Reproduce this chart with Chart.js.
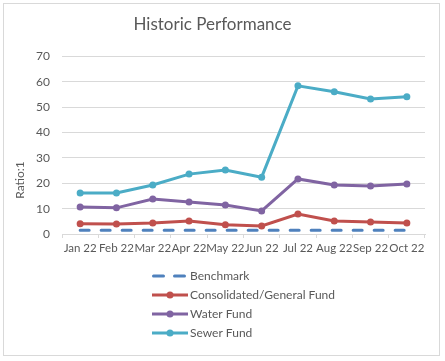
<!DOCTYPE html>
<html>
<head>
<meta charset="utf-8">
<script src="https://cdn.jsdelivr.net/npm/chart.js@4"></script>
<style>
  body { margin: 0; background: #fff; }
  canvas { display: block; }
</style>
</head>
<body>
<canvas id="myChart" width="445" height="361"></canvas>
<script>
  // chart data
  var months = ['Jan 22', 'Feb 22', 'Mar 22', 'Apr 22', 'May 22', 'Jun 22', 'Jul 22', 'Aug 22', 'Sep 22', 'Oct 22'];
  var benchmark = [1.5, 1.5, 1.5, 1.5, 1.5, 1.5, 1.5, 1.5, 1.5, 1.5];
  var generalFund = [4.0, 3.9, 4.3, 5.1, 3.6, 3.2, 7.9, 5.1, 4.7, 4.3];
  var waterFund = [10.6, 10.3, 13.8, 12.6, 11.4, 9.1, 21.7, 19.3, 18.9, 19.7];
  var sewerFund = [16.2, 16.2, 19.3, 23.6, 25.2, 22.4, 58.4, 56.1, 53.2, 54.1];
  var yTicks = [0, 10, 20, 30, 40, 50, 60, 70];

  var textColor = '#595959';
  var gridColor = '#d9d9d9';
  var fontFamily = 'Lato, Carlito, "Noto Sans", sans-serif';

  function series(label, data, color, dashed) {
    return {
      label: label,
      data: data,
      borderColor: color,
      backgroundColor: color,
      borderWidth: 3,
      borderDash: dashed ? [9, 12] : [],
      borderCapStyle: dashed ? 'round' : 'butt',
      pointRadius: dashed ? 0 : 3.5,
      pointHoverRadius: dashed ? 0 : 3.5,
      pointBorderWidth: 0,
      tension: 0,
      fill: false
    };
  }

  // border + y axis title + vertical legend
  var extras = {
    id: 'extras',
    afterDraw: function (chart) {
      var c = chart.ctx;
      c.save();
      c.strokeStyle = gridColor;
      c.lineWidth = 1;
      c.strokeRect(3.5, 3.5, 436, 352);

      c.fillStyle = textColor;
      c.font = '12px ' + fontFamily;
      c.textAlign = 'center';
      c.textBaseline = 'middle';
      c.translate(20, 180);
      c.rotate(-Math.PI / 2);
      c.fillText('Ratio:1', 0, 0);
      c.restore();

      c.save();
      var rowY = 276;
      chart.data.datasets.forEach(function (ds, i) {
        var y = rowY + i * 19;
        c.strokeStyle = ds.borderColor;
        c.lineWidth = 3;
        c.lineCap = ds.borderCapStyle;
        c.setLineDash(ds.borderDash.length ? [10, 11] : []);
        c.beginPath();
        if (ds.borderDash.length) {
          c.moveTo(153.5, y); c.lineTo(185, y);
        } else {
          c.moveTo(152, y); c.lineTo(188, y);
        }
        c.stroke();
        c.setLineDash([]);
        if (ds.pointRadius) {
          c.fillStyle = ds.borderColor;
          c.beginPath();
          c.arc(170, y, 3.5, 0, Math.PI * 2);
          c.fill();
        }
        c.fillStyle = textColor;
        c.font = '12px ' + fontFamily;
        c.textAlign = 'left';
        c.textBaseline = 'middle';
        c.fillText(ds.label, 190, y);
      });
      c.restore();
    }
  };

  var ctx = document.getElementById('myChart').getContext('2d');
  var myChart = new Chart(ctx, {
    type: 'line',
    data: {
      labels: months,
      datasets: [
        series('Benchmark', benchmark, '#4f81bd', true),
        series('Consolidated/General Fund', generalFund, '#c0504d', false),
        series('Water Fund', waterFund, '#8064a2', false),
        series('Sewer Fund', sewerFund, '#4bacc6', false)
      ]
    },
    options: {
      responsive: false,
      animation: false,
      layout: { padding: { left: 0, right: 20, top: 0, bottom: 0 } },
      plugins: {
        legend: { display: false },
        tooltip: { enabled: false },
        title: {
          display: true,
          text: 'Historic Performance',
          color: textColor,
          font: { family: fontFamily, size: 17, weight: 'normal', lineHeight: 1.2 },
          padding: { top: 14, bottom: 22 }
        }
      },
      scales: {
        x: {
          offset: true,
          border: { display: true, color: gridColor },
          grid: { offset: true, drawOnChartArea: false, drawTicks: true, tickLength: 4, color: gridColor },
          ticks: { color: textColor, font: { family: fontFamily, size: 11.5 }, padding: 3, maxRotation: 0, autoSkip: false },
          afterFit: function (scale) { scale.height = 127; }
        },
        y: {
          min: 0,
          max: 70,
          border: { display: false },
          grid: { color: gridColor, drawTicks: false },
          afterBuildTicks: function (scale) {
            scale.ticks = yTicks.map(function (v) { return { value: v }; });
          },
          ticks: { color: textColor, font: { family: fontFamily, size: 12 }, padding: 12 },
          afterFit: function (scale) { scale.width = 62; }
        }
      }
    },
    plugins: [extras]
  });
</script>
</body>
</html>
